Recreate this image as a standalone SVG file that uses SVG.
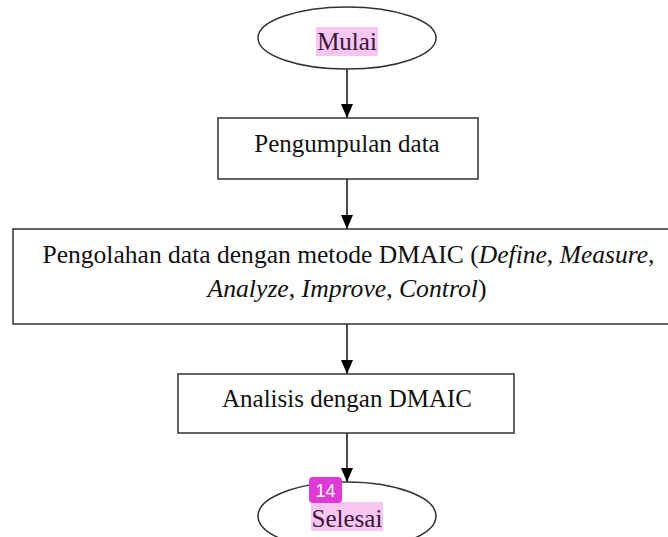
<svg xmlns="http://www.w3.org/2000/svg" width="668" height="537" viewBox="0 0 668 537">
  <style>
    .shape { fill: #ffffff; stroke: #333333; stroke-width: 1.5; }
    .label { font-family: "Liberation Serif", "DejaVu Serif", serif; font-size: 25px; fill: #111111; text-anchor: middle; }
    .mark { fill: #f7c6f3; }
    .marked { fill: #3a1538; }
    .edge { stroke: #111111; stroke-width: 1.5; fill: none; marker-end: url(#arrow); }
    .badge { fill: #e03ad6; }
    .badge-text { font-family: "Liberation Sans", Arial, sans-serif; font-size: 18px; fill: #ffffff; text-anchor: middle; }
  </style>
  <defs>
    <marker id="arrow" viewBox="0 0 14 12" refX="14" refY="6" markerWidth="14" markerHeight="12" markerUnits="userSpaceOnUse" orient="auto">
      <path d="M0,0 L14,6 L0,12 Z" fill="#000000"/>
    </marker>
  </defs>
  <rect width="668" height="537" fill="#ffffff"/>

  <!-- flow connectors -->
  <g id="connectors">
    <path class="edge" d="M347,69 V118"/>
    <path class="edge" d="M347,179 V229"/>
    <path class="edge" d="M347,324 V374"/>
    <path class="edge" d="M347,433 V482"/>
  </g>

  <g id="start">
    <ellipse class="shape" cx="347" cy="38" rx="89" ry="31"/>
    <rect class="mark" x="316" y="27" width="62" height="29"/>
    <text class="label marked" x="347" y="50">Mulai</text>
  </g>

  <g id="collect">
    <rect class="shape" x="218" y="118" width="260" height="61"/>
    <text class="label" x="347" y="152">Pengumpulan data</text>
  </g>

  <g id="process">
    <rect class="shape" x="13" y="229" width="668" height="95"/>
    <text class="label" x="348.5" y="263" textLength="612" lengthAdjust="spacingAndGlyphs">Pengolahan data dengan metode DMAIC (<tspan font-style="italic">Define</tspan>, <tspan font-style="italic">Measure</tspan>,</text>
    <text class="label" x="347" y="297" textLength="279" lengthAdjust="spacingAndGlyphs"><tspan font-style="italic">Analyze</tspan>, <tspan font-style="italic">Improve</tspan>, <tspan font-style="italic">Control</tspan>)</text>
  </g>

  <g id="analyze">
    <rect class="shape" x="178" y="374" width="336" height="59"/>
    <text class="label" x="347" y="407">Analisis dengan DMAIC</text>
  </g>

  <g id="end">
    <ellipse class="shape" cx="347" cy="516" rx="89" ry="34"/>
    <rect class="mark" x="311" y="502" width="72" height="29"/>
    <text class="label marked" x="347" y="527">Selesai</text>
    <rect class="badge" x="309" y="477" width="33" height="26" rx="4"/>
    <text class="badge-text" x="325.5" y="496.5">14</text>
  </g>
</svg>
